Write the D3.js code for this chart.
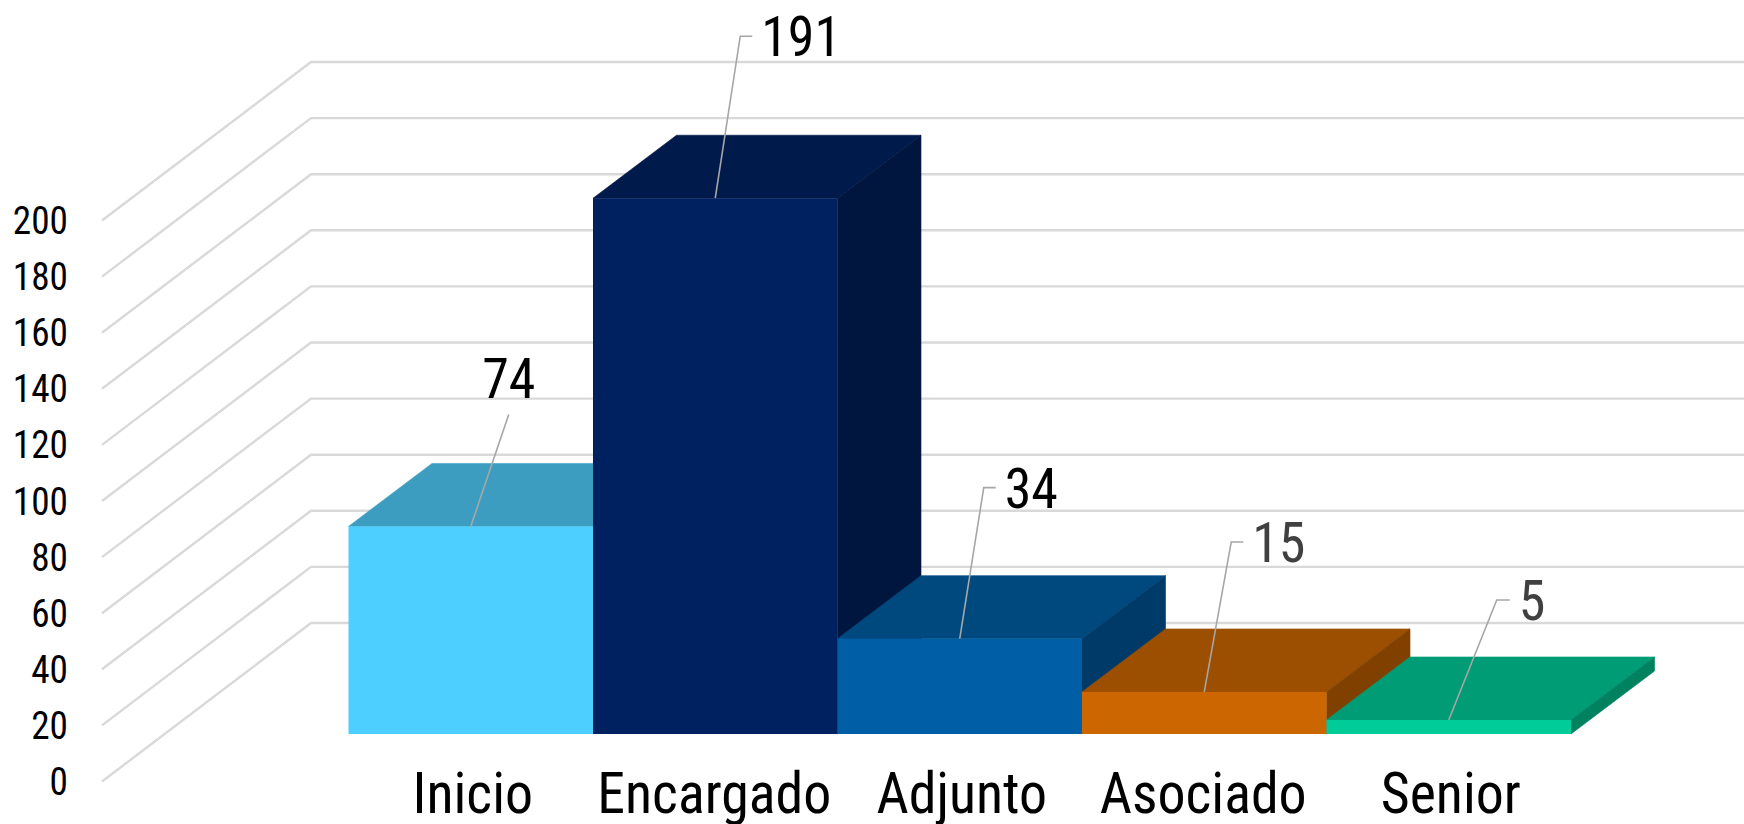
<!DOCTYPE html>
<html><head><meta charset="utf-8">
<script src="https://cdn.jsdelivr.net/npm/d3@7"></script>
<style>html,body{margin:0;padding:0;background:#fff;overflow:hidden}svg{display:block}text{font-family:"Roboto Condensed",Roboto,sans-serif}</style>
</head><body><svg id="c" width="1744" height="824"></svg>
<script>
const categories=["Inicio","Encargado","Adjunto","Asociado","Senior"];
const values=[74,191,34,15,5];
const ticks=[0,20,40,60,80,100,120,140,160,180,200];
const frontColors=["#4dcfff","#00215f","#005ea6","#cc6600","#00cc99"];
const topColors=["#3d9dc0","#001a4b","#00497f","#9c4f00","#009c75"];
const sideColors=["#337f9c","#00163f","#003a68","#804000","#008260"];
const labelColors=["#000","#000","#000","#404040","#404040"];
// layout: leader elbow and label anchor relative to the bar top-centre
const leaderDx=[38,25,24,27,48], leaderDy=[-112,-162,-151,-150,-120];
const elbow=[0,12,12,12,13];
const catShift=[2,-1,2,-1,2];

const svg=d3.select("#c");
const W=1744;
const y=d3.scaleLinear().domain([0,200]).range([781.5,220.5]);
const h=v=>y(0)-y(v);
const x=d3.scaleBand().domain(categories).range([348.5,1571]).padding(0);
const wallFront=102,wallBack=311,wallDy=158.5;
const baseY=734,depthX=83.5,depthY=63;
const condX=0.98;

const grid=svg.append("g").attr("fill","none").attr("stroke","#d9d9d9").attr("stroke-width",2.4);
grid.selectAll("path").data(ticks).join("path")
  .attr("d",t=>{const p=d3.path();p.moveTo(wallFront,y(t));p.lineTo(wallBack,y(t)-wallDy);p.lineTo(W,y(t)-wallDy);return p.toString();});

const poly=pts=>d3.line()(pts)+"Z";
const bars=svg.append("g").selectAll("g").data(categories).join("g");
bars.each(function(c,i){
  const g=d3.select(this),l=x(c),r=l+x.bandwidth(),b=baseY,t=baseY-h(values[i]);
  g.append("path").attr("fill",topColors[i]).attr("stroke",topColors[i]).attr("stroke-width",0.6).attr("d",poly([[l,t],[l+depthX,t-depthY],[r+depthX,t-depthY],[r,t]]));
  g.append("path").attr("fill",sideColors[i]).attr("stroke",sideColors[i]).attr("stroke-width",0.6).attr("d",poly([[r,t],[r+depthX,t-depthY],[r+depthX,b-depthY],[r,b]]));
  g.append("rect").attr("fill",frontColors[i]).attr("x",l).attr("y",t).attr("width",x.bandwidth()).attr("height",b-t);
});

const cond=(sel,px,py)=>sel.attr("transform",`translate(${px},${py}) scale(${condX},1)`);
svg.append("g").selectAll("text").data(ticks).join("text")
  .text(d=>d).attr("text-anchor","end").attr("font-size",38).attr("fill","#000")
  .each(function(t){cond(d3.select(this),68,y(t)+13.5);});
svg.append("g").selectAll("text").data(categories).join("text")
  .text(d=>d).attr("text-anchor","middle").attr("font-size",57).attr("fill","#000")
  .each(function(c,i){cond(d3.select(this),x(c)+x.bandwidth()/2+catShift[i],813);});

const lab=svg.append("g");
values.forEach((v,i)=>{
  const cx=x(categories[i])+x.bandwidth()/2,ty=baseY-h(v);
  const ex=cx+leaderDx[i],ey=ty+leaderDy[i];
  lab.append("path").attr("fill","none").attr("stroke","#a6a6a6").attr("stroke-width",1.6)
    .attr("d",d3.line()([[cx,ty],[ex,ey],[ex+elbow[i],ey]]));
  const t=lab.append("text").text(v).attr("font-size",55).attr("fill",labelColors[i]);
  if(elbow[i]===0){t.attr("text-anchor","middle");cond(t,ex,ey-16);}
  else{t.attr("text-anchor","start");cond(t,ex+elbow[i]+9,ey+20);}
});
</script></body></html>
